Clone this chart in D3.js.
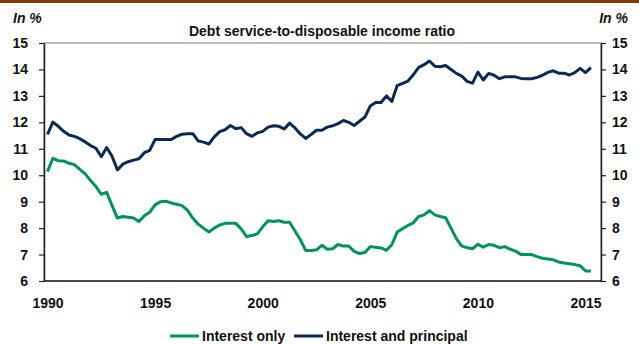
<!DOCTYPE html>
<html>
<head>
<meta charset="utf-8">
<script src="https://cdn.jsdelivr.net/npm/d3@7"></script>
<style>
  html, body { margin: 0; padding: 0; background: #fff; }
  svg { display: block; font-family: "Liberation Sans", Arial, sans-serif; }
</style>
</head>
<body>
<svg id="chart" width="639" height="344"></svg>
<script>
// Debt service-to-disposable income ratio, quarterly 1990Q1 - 2015Q2
const startYear = 1990;

const interestOnly = [
  10.14, 10.64, 10.55, 10.54, 10.45, 10.40, 10.22, 10.05, 9.80, 9.57,
  9.28, 9.35, 8.85, 8.38, 8.44, 8.41, 8.38, 8.25, 8.47, 8.60,
  8.88, 9.00, 9.02, 8.95, 8.90, 8.85, 8.68, 8.38, 8.15, 8.00,
  7.85, 8.00, 8.12, 8.18, 8.18, 8.18, 7.97, 7.68, 7.72, 7.78,
  8.05, 8.28, 8.25, 8.28, 8.22, 8.22, 7.89, 7.56, 7.15, 7.15,
  7.18, 7.35, 7.20, 7.22, 7.38, 7.32, 7.32, 7.12, 7.04, 7.08,
  7.30, 7.28, 7.25, 7.16, 7.37, 7.85, 7.98, 8.10, 8.20, 8.44,
  8.50, 8.66, 8.50, 8.44, 8.39, 8.00, 7.60, 7.32, 7.26, 7.22,
  7.39, 7.28, 7.38, 7.35, 7.26, 7.30, 7.20, 7.13, 7.00, 7.00,
  7.00, 6.92, 6.86, 6.83, 6.80, 6.72, 6.68, 6.65, 6.62, 6.58,
  6.38, 6.38
];

const interestAndPrincipal = [
  11.54, 12.01, 11.85, 11.66, 11.52, 11.47, 11.38, 11.26, 11.12, 11.02,
  10.70, 11.05, 10.72, 10.20, 10.42, 10.51, 10.57, 10.62, 10.85, 10.94,
  11.35, 11.35, 11.35, 11.35, 11.47, 11.55, 11.57, 11.57, 11.30, 11.25,
  11.18, 11.45, 11.65, 11.72, 11.88, 11.76, 11.80, 11.57, 11.47, 11.60,
  11.66, 11.82, 11.87, 11.85, 11.75, 11.97, 11.79, 11.56, 11.39, 11.54,
  11.70, 11.70, 11.82, 11.87, 11.95, 12.07, 12.00, 11.88, 12.04, 12.20,
  12.62, 12.75, 12.75, 13.00, 12.79, 13.39, 13.47, 13.56, 13.80, 14.08,
  14.18, 14.32, 14.12, 14.10, 14.15, 14.00, 13.85, 13.75, 13.55, 13.48,
  13.90, 13.60, 13.85, 13.78, 13.65, 13.72, 13.72, 13.72, 13.66, 13.65,
  13.65, 13.70, 13.78, 13.89, 13.95, 13.86, 13.86, 13.79, 13.88, 14.04,
  13.88, 14.07
];

const xTicks = [1990, 1995, 2000, 2005, 2010, 2015];
const yTicks = [6, 7, 8, 9, 10, 11, 12, 13, 14, 15];

const series = [
  { name: "Interest only", values: interestOnly, color: "#00925a" },
  { name: "Interest and principal", values: interestAndPrincipal, color: "#0a2a52" }
];

const svg = d3.select("#chart");
const W = +svg.attr("width");

// top brown band
svg.append("rect")
  .attr("x", 0).attr("y", 0)
  .attr("width", W).attr("height", 3)
  .attr("fill", "#843c0c");

const plotL = 44, plotR = 601, plotT = 43, plotB = 281;

const x = d3.scaleLinear().domain([1990, 2015]).range([47.5, 585.5]);
const y = d3.scaleLinear().domain([6, 15]).range([plotB, plotT]);

// frame
svg.append("rect")
  .attr("x", plotL).attr("y", plotT)
  .attr("width", plotR - plotL).attr("height", plotB - plotT)
  .attr("fill", "none")
  .attr("stroke", "#777")
  .attr("stroke-width", 1);

function styleAxis(g) {
  g.select(".domain").attr("stroke", "#222").attr("stroke-width", 1.5);
  g.selectAll(".tick line").attr("stroke", "#222").attr("stroke-width", 1.2);
  g.selectAll("text")
    .attr("fill", "#111")
    .style("font-size", "14px")
    .style("font-weight", "bold");
}

// --- Left axis ---
svg.append("g")
  .attr("transform", `translate(${plotL},0)`)
  .call(d3.axisLeft(y).tickValues(yTicks).tickSize(5).tickPadding(11).tickSizeOuter(0))
  .call(styleAxis);

// --- Right axis ---
svg.append("g")
  .attr("transform", `translate(${plotR},0)`)
  .call(d3.axisRight(y).tickValues(yTicks).tickSize(5).tickPadding(6).tickSizeOuter(0))
  .call(styleAxis);

// --- Bottom axis ---
svg.append("g")
  .attr("transform", `translate(0,${plotB})`)
  .call(d3.axisBottom(x).tickValues(xTicks).tickFormat(d3.format("d")).tickSize(0).tickPadding(17))
  .call(g => g.select(".domain").attr("d", `M${plotL},0H${plotR}`))
  .call(styleAxis);

// --- Lines ---
const line = d3.line()
  .x((d, i) => x(startYear + i / 4))
  .y(d => y(d));

series.forEach(s => {
  svg.append("path")
    .datum(s.values)
    .attr("fill", "none")
    .attr("stroke", s.color)
    .attr("stroke-width", 3)
    .attr("stroke-linejoin", "round")
    .attr("d", line);
});

// --- Title & unit labels ---
svg.append("text")
  .attr("x", 322).attr("y", 36)
  .attr("text-anchor", "middle")
  .style("font-size", "14px")
  .style("font-weight", "bold")
  .attr("fill", "#111")
  .text("Debt service-to-disposable income ratio");

svg.append("text")
  .attr("x", 13).attr("y", 23)
  .style("font-size", "14px")
  .style("font-weight", "bold")
  .style("font-style", "italic")
  .attr("fill", "#111")
  .text("In %");

svg.append("text")
  .attr("x", 628).attr("y", 23)
  .attr("text-anchor", "end")
  .style("font-size", "14px")
  .style("font-weight", "bold")
  .style("font-style", "italic")
  .attr("fill", "#111")
  .text("In %");

// --- Legend ---
const legendX = [170, 294];
const legend = svg.append("g");
series.forEach((s, i) => {
  const lg = legend.append("g").attr("transform", `translate(${legendX[i]},336)`);
  lg.append("line")
    .attr("x1", 0).attr("x2", 29)
    .attr("stroke", s.color)
    .attr("stroke-width", 3);
  lg.append("text")
    .attr("x", 32).attr("y", 5)
    .style("font-size", "14px")
    .style("font-weight", "bold")
    .attr("fill", "#111")
    .text(s.name);
});
</script>
</body>
</html>
